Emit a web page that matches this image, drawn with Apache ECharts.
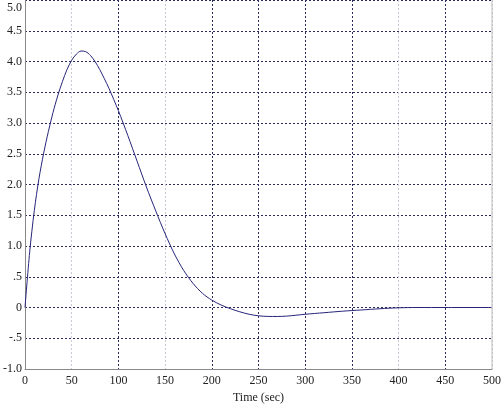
<!DOCTYPE html>
<html>
<head>
<meta charset="utf-8">
<script src="https://cdn.jsdelivr.net/npm/echarts@6/dist/echarts.min.js"></script>
<style>
  html, body { margin: 0; padding: 0; background: #fff; }
  #chart { width: 504px; height: 409px; }
</style>
</head>
<body>
<div id="chart"></div>
<script>
// response curve
const timeSec = [0, 5, 10, 15, 20, 25, 30, 35, 40, 45, 50, 55, 60, 65, 70, 75, 80, 85, 90,
  100, 110, 120, 130, 140, 150, 160, 170, 180, 190, 200, 210, 220, 230, 240, 250, 260,
  270, 280, 290, 300, 320, 340, 360, 380, 400, 420, 450, 500];
const response = [0, 0.9, 1.58, 2.1, 2.51, 2.86, 3.17, 3.44, 3.67, 3.87, 4.02, 4.12, 4.17, 4.16, 4.1, 4.0, 3.87, 3.72, 3.56,
  3.2, 2.8, 2.38, 1.96, 1.57, 1.2, 0.87, 0.6, 0.39, 0.23, 0.12, 0.04, -0.02, -0.07, -0.11, -0.135, -0.145,
  -0.146, -0.14, -0.126, -0.11, -0.085, -0.06, -0.04, -0.02, -0.005, 0, 0, 0];
const yTickLabels = { "5": "5.0", "4.5": "4.5", "4": "4.0", "3.5": "3.5", "3": "3.0", "2.5": "2.5",
  "2": "2.0", "1.5": "1.5", "1": "1.0", "0.5": ".5", "0": "0", "-0.5": "-.5", "-1": "-1.0" };

const dark = "#2a2a5a";
const light = "#c8c8d4";
const font = "'Liberation Serif', 'DejaVu Serif', serif";

const chart = echarts.init(document.getElementById("chart"));
chart.setOption({
  backgroundColor: "#fff",
  animation: false,
  textStyle: { fontFamily: font },
  grid: { left: 23, right: 9, top: 0, bottom: 38 },
  xAxis: {
    type: "value",
    min: 0,
    max: 500,
    interval: 50,
    name: "Time (sec)",
    nameLocation: "middle",
    nameGap: 23,
    nameTextStyle: { fontFamily: font, fontSize: 12, color: "#222" },
    axisLine: { show: true, onZero: false, lineStyle: { color: "#888", width: 1 } },
    axisTick: { show: false },
    axisLabel: { fontFamily: font, fontSize: 12, color: "#222", margin: 6 },
    splitLine: {
      show: true,
      lineStyle: {
        type: [2, 2],
        width: 1,
        color: [light, light, dark, light, dark, dark, dark, dark, light, dark, light],
      },
    },
  },
  yAxis: {
    type: "value",
    min: -1,
    max: 5,
    interval: 0.5,
    axisLine: { show: true, onZero: false, lineStyle: { color: "#888", width: 1 } },
    axisTick: { show: false },
    axisLabel: {
      fontFamily: font,
      fontSize: 12,
      color: "#222",
      margin: 3,
      formatter: (v) => (v === 5 ? "{top|5.0}" : yTickLabels[String(v)]),
      rich: { top: { fontFamily: font, fontSize: 12, color: "#222", padding: [16, 0, 0, 0] } },
    },
    splitLine: { show: true, lineStyle: { type: [2, 2], width: 1, color: dark } },
  },
  series: [
    {
      type: "line",
      data: timeSec.map((t, i) => [t, response[i]]),
      smooth: 0.3,
      showSymbol: false,
      lineStyle: { color: "#25257a", width: 1 },
    },
    {
      // right border
      type: "line",
      data: [[500, -1], [500, 5]],
      showSymbol: false,
      silent: true,
      lineStyle: { color: "#bbb", width: 1 },
    },
  ],
});
</script>
</body>
</html>
